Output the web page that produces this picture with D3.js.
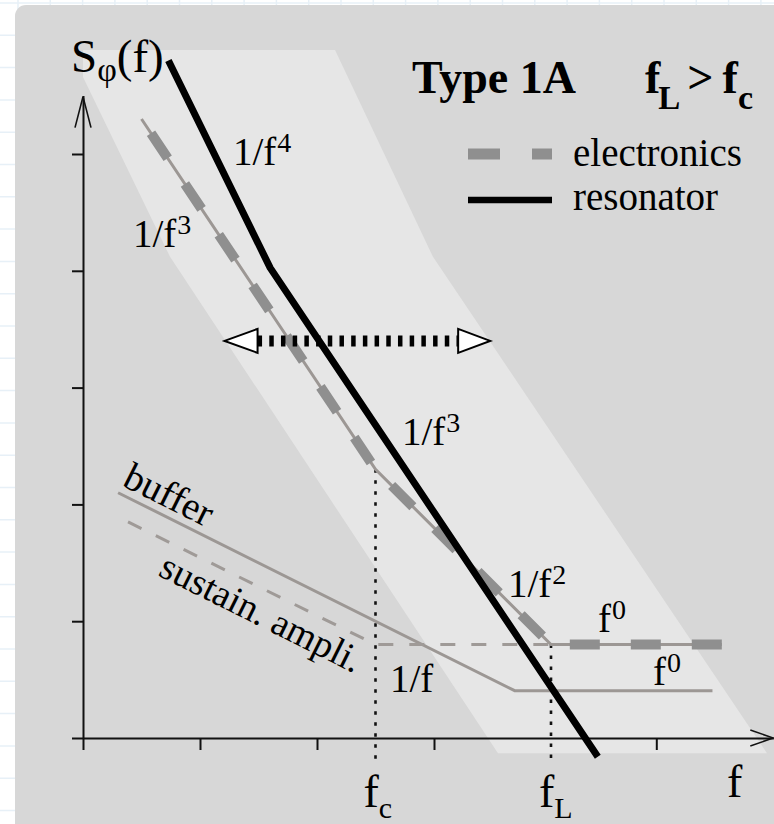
<!DOCTYPE html>
<html>
<head>
<meta charset="utf-8">
<script src="https://cdn.jsdelivr.net/npm/d3@7"></script>
<style>
  html, body { margin: 0; padding: 0; background: #ffffff; }
  svg { display: block; }
  text { font-family: "Liberation Serif", "Times New Roman", "DejaVu Serif", serif; fill: #000; }
</style>
</head>
<body>
<svg id="chart" width="774" height="824"></svg>
<script>
// Log-log sketch of phase noise: x = decades of Fourier frequency, y = decades of S_phi(f)
const xTicks = [0, 1, 2, 3, 4.9];
const yTicks = [0, 2, 4, 6, 8, 10];

// resonator (Leeson-converted) noise: 1/f^4 then 1/f^3
const resonatorLogF = [0.73, 1.60, 4.40];
const resonatorLogS = [11.6, 8.05, -0.32];

// electronics: 1/f^3, 1/f^2, then white floor
const electronicsLogF = [0.50, 2.50, 4.00, 5.46];
const electronicsLogS = [10.6, 4.60, 1.60, 1.60];

// buffer amplifier: 1/f then white
const bufferLogF = [0.30, 3.69, 5.38];
const bufferLogS = [4.20, 0.81, 0.81];

// sustaining amplifier: 1/f then white
const sustainLogF = [0.385, 2.50, 4.00];
const sustainLogS = [3.70, 1.60, 1.60];

// corner frequencies
const cornerNames = ["c", "L"];
const cornerLogF = [2.50, 4.00];
const cornerLogS = [4.60, 1.60];

// region where the resonator noise may lie
const bandLogF = [0, 2.154, 2.991, 5.846, 3.547, 0.744, 0];
const bandLogS = [11.78, 11.78, 8.24, -0.26, -0.26, 8.24, 11.32];

// double arrow showing the possible shift
const shiftLogF = [1.21, 3.48];
const shiftLogS = 6.8;

// slope annotations
const slopeBase = ["1/f", "1/f", "1/f", "1/f", "f", "f", "1/f"];
const slopeSup  = ["4", "3", "3", "2", "0", "0", ""];
const slopeLogF = [1.282, 0.427, 2.726, 3.632, 4.402, 4.872, 2.624];
const slopeLogS = [9.81, 8.41, 5.02, 2.41, 1.815, 0.91, 0.79];

const svg = d3.select("#chart");
const W = 774, H = 824;

const x = d3.scaleLinear().domain([0, 5.9]).range([83, 83 + 117 * 5.9]);
const y = d3.scaleLinear().domain([0, 11]).range([738, 738 - 58.4 * 11]);

const pts = (fs, ss) => fs.map((f, i) => [x(f), y(ss[i])]);
const line = d3.line();

// page background with faint grid
const bg = svg.append("g");
bg.append("rect").attr("width", W).attr("height", H).attr("fill", "#ffffff");
for (let gx = 18; gx < W; gx += 32.3) {
  bg.append("line").attr("x1", gx).attr("x2", gx).attr("y1", 0).attr("y2", H)
    .attr("stroke", "#e7f0f7").attr("stroke-width", 1.5);
}
for (let gy = 3; gy < H; gy += 32.3) {
  bg.append("line").attr("y1", gy).attr("y2", gy).attr("x1", 0).attr("x2", W)
    .attr("stroke", "#e7f0f7").attr("stroke-width", 1.5);
}

// card
svg.append("rect").attr("x", 15).attr("y", 5).attr("width", W + 20).attr("height", H + 20)
  .attr("rx", 11).attr("fill", "#d7d7d7");

// band
svg.append("path").attr("d", line(pts(bandLogF, bandLogS)) + "Z").attr("fill", "#e6e6e6");

// axes
const axisColor = "#111";
const yAxis = svg.append("g").attr("transform", `translate(${x(0)},0)`)
  .call(d3.axisLeft(y).tickValues(yTicks).tickSize(11).tickSizeOuter(0).tickFormat(""));
const xAxis = svg.append("g").attr("transform", `translate(0,${y(0)})`)
  .call(d3.axisBottom(x).tickValues(xTicks).tickSize(12).tickSizeOuter(0).tickFormat(""));
[xAxis, yAxis].forEach(g => {
  g.selectAll("path.domain").attr("stroke", axisColor).attr("stroke-width", 2);
  g.selectAll(".tick line").attr("stroke", axisColor).attr("stroke-width", 2);
});
// arrowheads
const yTop = y.range()[1], xEnd = x.range()[1];
svg.append("path")
  .attr("d", `M${x(0) - 8},${yTop + 32}L${x(0)},${yTop + 1}L${x(0) + 8},${yTop + 32}`)
  .attr("fill", "none").attr("stroke", axisColor).attr("stroke-width", 1.6);
svg.append("path")
  .attr("d", `M${xEnd - 23},${y(0) - 8}L${xEnd},${y(0)}L${xEnd - 23},${y(0) + 8}`)
  .attr("fill", "none").attr("stroke", axisColor).attr("stroke-width", 1.6);

// corner-frequency dotted guides
cornerLogF.forEach((f, i) => {
  svg.append("line").attr("x1", x(f)).attr("x2", x(f))
    .attr("y1", y(cornerLogS[i])).attr("y2", y(-0.38))
    .attr("stroke", "#111").attr("stroke-width", 2.6).attr("stroke-dasharray", "3.5 7.5");
});

// buffer
svg.append("path").attr("d", line(pts(bufferLogF, bufferLogS)))
  .attr("fill", "none").attr("stroke", "#9c9794").attr("stroke-width", 3);
// sustaining amplifier
svg.append("path").attr("d", line(pts(sustainLogF, sustainLogS)))
  .attr("fill", "none").attr("stroke", "#9f9a97").attr("stroke-width", 3)
  .attr("stroke-dasharray", "15 16");

// electronics: thin core plus wide dashes
const elecD = line(pts(electronicsLogF, electronicsLogS));
svg.append("path").attr("d", elecD).attr("fill", "none")
  .attr("stroke", "#9c9794").attr("stroke-width", 3);
const elecDash = svg.append("path").attr("d", elecD).attr("fill", "none")
  .attr("stroke", "#8f8f8f").attr("stroke-width", 10).attr("stroke-dasharray", "30 31");
const eLen = elecDash.node().getTotalLength();
elecDash.attr("stroke-dashoffset", 30 - (eLen % 61));

// resonator
svg.append("path").attr("d", line(pts(resonatorLogF, resonatorLogS)))
  .attr("fill", "none").attr("stroke", "#000").attr("stroke-width", 7)
  .attr("stroke-linejoin", "round");

// double arrow
const ay = y(shiftLogS), ax0 = x(shiftLogF[0]), ax1 = x(shiftLogF[1]);
svg.append("line").attr("x1", ax0 + 33).attr("x2", ax1 - 32).attr("y1", ay).attr("y2", ay)
  .attr("stroke", "#000").attr("stroke-width", 11).attr("stroke-dasharray", "4.5 7.2");
svg.append("path").attr("d", `M${ax0},${ay}L${ax0 + 33},${ay - 12}L${ax0 + 33},${ay + 12}Z`)
  .attr("fill", "#fff").attr("stroke", "#000").attr("stroke-width", 2);
svg.append("path").attr("d", `M${ax1},${ay}L${ax1 - 32},${ay - 12}L${ax1 - 32},${ay + 12}Z`)
  .attr("fill", "#fff").attr("stroke", "#000").attr("stroke-width", 2);

// slope labels
slopeBase.forEach((b, i) => {
  const t = svg.append("text").attr("x", x(slopeLogF[i])).attr("y", y(slopeLogS[i]))
    .attr("font-size", 39);
  t.append("tspan").text(b);
  if (slopeSup[i]) t.append("tspan").attr("font-size", 28).attr("dx", 1).attr("dy", -13).text(slopeSup[i]);
});

// curve names along their slopes
const angle = Math.atan((y(0) - y(1)) / (x(1) - x(0))) * 180 / Math.PI;
svg.append("text").attr("font-size", 39)
  .attr("transform", `translate(${x(0.325)},${y(4.33)}) rotate(${angle})`).text("buffer");
svg.append("text").attr("font-size", 38)
  .attr("transform", `translate(${x(0.632)},${y(2.79)}) rotate(${angle})`).text("sustain. ampli.");

// axis titles
const sLab = svg.append("text").attr("x", 71).attr("y", 72).attr("font-size", 47);
sLab.append("tspan").text("S");
sLab.append("tspan").attr("font-size", 34).attr("dy", 9).text("φ");
sLab.append("tspan").attr("dy", -9).text("(f)");

svg.append("text").attr("x", 727).attr("y", 797).attr("font-size", 46).text("f");
cornerLogF.forEach((f, i) => {
  const t = svg.append("text").attr("x", x(f) - 12).attr("y", 807).attr("font-size", 46);
  t.append("tspan").text("f");
  t.append("tspan").attr("font-size", 30).attr("dy", 11).text(cornerNames[i]);
});

// title
svg.append("text").attr("x", 412).attr("y", 93).attr("font-size", 46).attr("font-weight", "bold")
  .text("Type 1A");
const cond = svg.append("text").attr("x", 645).attr("y", 93).attr("font-size", 46).attr("font-weight", "bold");
cond.append("tspan").text("f");
cond.append("tspan").attr("font-size", 33).attr("dx", -2).attr("dy", 16).text("L");
cond.append("tspan").attr("dy", -16).attr("dx", 7).text(">");
cond.append("tspan").attr("dx", 9).text("f");
cond.append("tspan").attr("font-size", 34).attr("dx", 0).attr("dy", 16).text("c");

// legend
const legX0 = 468, legX1 = 552;
svg.append("line").attr("x1", legX0).attr("x2", legX1).attr("y1", 154).attr("y2", 154)
  .attr("stroke", "#8f8f8f").attr("stroke-width", 11).attr("stroke-dasharray", "32 32");
svg.append("text").attr("x", 573).attr("y", 166).attr("font-size", 39).text("electronics");
svg.append("line").attr("x1", legX0).attr("x2", legX1).attr("y1", 200).attr("y2", 200)
  .attr("stroke", "#000").attr("stroke-width", 6.5);
svg.append("text").attr("x", 573).attr("y", 210).attr("font-size", 39).text("resonator");
</script>
</body>
</html>
